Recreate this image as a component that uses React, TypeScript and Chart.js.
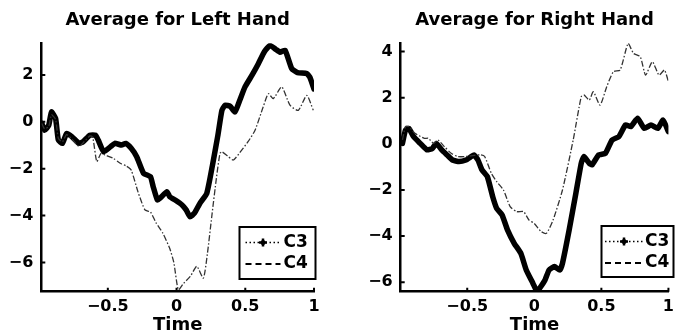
import React, { useEffect, useRef } from "react";
import { Chart, registerables } from "chart.js";
Chart.register(...registerables);

const FONT = "'DejaVu Sans', sans-serif";

const seriesNames = ["C3", "C4"];
const panelTitles = ["Average for Left Hand", "Average for Right Hand"];
const xAxisTitle = "Time";
const xTickValues = [-0.5, 0, 0.5, 1];
const xTickLabels = ["\u22120.5", "0", "0.5", "1"];
const leftYTickValues = [-6, -4, -2, 0, 2];
const rightYTickValues = [-6, -4, -2, 0, 2, 4];

// Left hand, C3
const leftC3Time = [-0.98, -0.96, -0.93, -0.91, -0.88, -0.86, -0.83, -0.8, -0.76, -0.71, -0.68, -0.63, -0.59, -0.57, -0.53, -0.48, -0.45, -0.4, -0.37, -0.33, -0.29, -0.24, -0.19, -0.17, -0.14, -0.12, -0.07, -0.05, -0.01, 0.04, 0.07, 0.098, 0.13, 0.17, 0.22, 0.26, 0.3, 0.33, 0.353, 0.39, 0.425, 0.46, 0.498, 0.55, 0.595, 0.64, 0.68, 0.72, 0.753, 0.79, 0.838, 0.88, 0.947, 0.97, 1.0];
const leftC3Values = [-0.07, -0.36, -0.15, 0.42, 0.14, -0.78, -0.92, -0.5, -0.64, -0.92, -0.85, -0.57, -0.57, -0.78, -1.28, -1.06, -0.92, -0.99, -0.92, -1.13, -1.49, -2.2, -2.34, -2.77, -3.33, -3.26, -2.98, -3.19, -3.34, -3.55, -3.76, -4.05, -3.9, -3.48, -3.05, -1.9, -0.6, 0.49, 0.71, 0.66, 0.42, 0.92, 1.49, 2.0, 2.48, 3.0, 3.26, 3.1, 2.97, 3.05, 2.27, 2.1, 2.06, 1.9, 1.4];

// Left hand, C4
const leftC4Time = [-0.98, -0.96, -0.93, -0.91, -0.88, -0.86, -0.83, -0.8, -0.76, -0.71, -0.68, -0.63, -0.61, -0.58, -0.55, -0.52, -0.46, -0.41, -0.365, -0.33, -0.28, -0.23, -0.19, -0.15, -0.1, -0.05, -0.02, 0.013, 0.05, 0.1, 0.147, 0.195, 0.225, 0.256, 0.29, 0.316, 0.33, 0.37, 0.413, 0.474, 0.52, 0.571, 0.63, 0.668, 0.704, 0.765, 0.825, 0.886, 0.947, 0.995];
const leftC4Values = [-0.07, -0.3, -0.2, 0.3, 0.1, -0.7, -0.85, -0.55, -0.75, -1.05, -0.9, -0.6, -0.65, -1.7, -1.35, -1.42, -1.56, -1.77, -1.89, -2.06, -3.0, -3.76, -3.85, -4.3, -4.75, -5.4, -6.0, -7.17, -6.9, -6.6, -6.17, -6.67, -5.6, -4.05, -2.4, -1.35, -1.28, -1.45, -1.63, -1.21, -0.85, -0.36, 0.63, 1.2, 0.99, 1.49, 0.71, 0.49, 1.13, 0.49];

// Right hand, C3
const rightC3Time = [-0.983, -0.96, -0.935, -0.9, -0.85, -0.8, -0.76, -0.73, -0.69, -0.65, -0.61, -0.56, -0.51, -0.47, -0.45, -0.42, -0.39, -0.35, -0.31, -0.28, -0.24, -0.2, -0.15, -0.1, -0.06, -0.01, 0.02, 0.04, 0.08, 0.11, 0.15, 0.19, 0.21, 0.26, 0.31, 0.35, 0.37, 0.41, 0.43, 0.48, 0.53, 0.58, 0.63, 0.68, 0.72, 0.77, 0.82, 0.87, 0.92, 0.96, 1.0];
const rightC3Values = [0.02, 0.6, 0.67, 0.31, 0.02, -0.26, -0.2, 0.02, -0.26, -0.48, -0.7, -0.77, -0.7, -0.55, -0.48, -0.7, -1.13, -1.42, -2.29, -2.8, -3.08, -3.73, -4.31, -4.75, -5.47, -6.05, -6.4, -6.26, -5.9, -5.47, -5.32, -5.47, -5.18, -3.73, -2.14, -0.84, -0.55, -0.84, -0.91, -0.48, -0.41, 0.17, 0.31, 0.82, 0.75, 1.11, 0.67, 0.82, 0.67, 1.03, 0.53];

// Right hand, C4
const rightC4Time = [-0.983, -0.96, -0.935, -0.89, -0.82, -0.79, -0.75, -0.72, -0.67, -0.62, -0.57, -0.51, -0.45, -0.4, -0.37, -0.32, -0.28, -0.23, -0.18, -0.13, -0.08, -0.04, 0.0, 0.05, 0.09, 0.14, 0.21, 0.29, 0.35, 0.37, 0.41, 0.44, 0.49, 0.54, 0.59, 0.64, 0.7, 0.74, 0.79, 0.83, 0.88, 0.93, 0.97, 1.0];
const rightC4Values = [0.17, 0.75, 0.75, 0.46, 0.24, 0.24, 0.02, 0.17, -0.12, -0.41, -0.55, -0.55, -0.5, -0.48, -0.55, -1.28, -1.64, -2.0, -2.72, -2.94, -2.94, -3.3, -3.45, -3.8, -3.88, -3.3, -2.0, 0.17, 2.05, 2.12, 1.9, 2.26, 1.68, 2.48, 3.13, 3.2, 4.36, 3.92, 3.78, 2.98, 3.56, 2.98, 3.2, 2.7];

const fmt = (v: number) => (v < 0 ? "\u2212" + Math.abs(v) : String(v));

type Box = { x: number; y: number; w: number; h: number; s0: number; s1: number; tx: number };

type PanelProps = {
  left: number;
  title: string;
  c3t: number[];
  c3v: number[];
  c4t: number[];
  c4v: number[];
  xMin: number;
  yMin: number;
  yMax: number;
  yTicks: number[];
  yAxisWidth: number;
  padRight: number;
  legend: Box;
};

function Panel(p: PanelProps) {
  const ref = useRef<HTMLCanvasElement>(null);
  useEffect(() => {
    const tickPlugin = {
      id: "inwardTicks",
      afterDatasetsDraw(chart: any) {
        const { ctx, chartArea, scales } = chart;
        ctx.save();
        ctx.strokeStyle = "#000";
        ctx.lineWidth = 2;
        ctx.beginPath();
        xTickValues.forEach((v) => {
          const px = scales.x.getPixelForValue(v);
          ctx.moveTo(px, chartArea.bottom);
          ctx.lineTo(px, chartArea.bottom - 4);
        });
        p.yTicks.forEach((v) => {
          const py = scales.y.getPixelForValue(v);
          ctx.moveTo(chartArea.left, py);
          ctx.lineTo(chartArea.left + 4, py);
        });
        ctx.stroke();
        ctx.restore();
      },
    };
    const legendPlugin = {
      id: "boxLegend",
      afterDraw(chart: any) {
        const ctx = chart.ctx;
        const b = p.legend;
        ctx.save();
        ctx.fillStyle = "#fff";
        ctx.fillRect(b.x, b.y, b.w, b.h);
        ctx.lineWidth = 2;
        ctx.strokeStyle = "#000";
        ctx.strokeRect(b.x, b.y, b.w, b.h);
        const y1 = b.y + 15.5;
        const y2 = b.y + 37;
        const x0 = b.x + b.s0;
        const x1 = b.x + b.s1;
        // C3 sample: dotted + marker
        ctx.setLineDash([1.5, 2.5]);
        ctx.lineWidth = 1.5;
        ctx.beginPath();
        ctx.moveTo(x0, y1);
        ctx.lineTo(x1, y1);
        ctx.stroke();
        ctx.setLineDash([]);
        const mx = (x0 + x1) / 2;
        ctx.lineWidth = 2.5;
        ctx.beginPath();
        ctx.moveTo(mx - 4, y1);
        ctx.lineTo(mx + 4, y1);
        ctx.moveTo(mx, y1 - 4);
        ctx.lineTo(mx, y1 + 4);
        ctx.stroke();
        ctx.beginPath();
        ctx.arc(mx, y1, 2.5, 0, Math.PI * 2);
        ctx.fillStyle = "#000";
        ctx.fill();
        // C4 sample: dashed
        ctx.setLineDash([6, 4]);
        ctx.lineWidth = 2;
        ctx.beginPath();
        ctx.moveTo(x0, y2);
        ctx.lineTo(x1, y2);
        ctx.stroke();
        ctx.setLineDash([]);
        ctx.fillStyle = "#000";
        ctx.font = `bold 17px ${FONT}`;
        ctx.textBaseline = "middle";
        ctx.textAlign = "left";
        ctx.fillText(seriesNames[0], b.x + b.tx, y1);
        ctx.fillText(seriesNames[1], b.x + b.tx, y2);
        ctx.restore();
      },
    };
    const chart = new Chart(ref.current!, {
      type: "line",
      data: {
        datasets: [
          {
            label: seriesNames[0],
            data: p.c3t.map((t, i) => ({ x: t, y: p.c3v[i] })),
            borderColor: "#000",
            borderWidth: 5.5,
            pointRadius: 0,
            tension: 0.15,
            borderJoinStyle: "round",
            borderCapStyle: "round",
            order: 1,
          },
          {
            label: seriesNames[1],
            data: p.c4t.map((t, i) => ({ x: t, y: p.c4v[i] })),
            borderColor: "#333",
            borderWidth: 1.3,
            borderDash: [6, 2, 1.5, 2],
            pointRadius: 0,
            tension: 0.2,
            order: 0,
          },
        ],
      },
      options: {
        animation: false,
        responsive: false,
        devicePixelRatio: 1,
        layout: { padding: { top: 0, left: 0, bottom: 0, right: p.padRight } },
        plugins: {
          legend: { display: false },
          tooltip: { enabled: false },
          title: {
            display: true,
            text: p.title,
            fullSize: false,
            color: "#000",
            font: { family: FONT, size: 18, weight: "bold", lineHeight: 1.2 },
            padding: { top: 10, bottom: 11.7 },
          },
        },
        scales: {
          x: {
            type: "linear",
            min: p.xMin,
            max: 1,
            grid: { display: false, drawTicks: false },
            border: { display: true, color: "#000", width: 2.5 },
            ticks: {
              color: "#000",
              font: { family: FONT, size: 16, weight: "bold" },
              padding: 6,
              maxRotation: 0,
              autoSkip: false,
              callback: (v: any) => {
                const i = xTickValues.indexOf(Number(v));
                return i >= 0 ? xTickLabels[i] : "";
              },
            },
            afterBuildTicks: (s: any) => {
              s.ticks = xTickValues.map((v) => ({ value: v }));
            },
            afterFit: (s: any) => {
              s.height = 42.3;
            },
            title: {
              display: true,
              text: xAxisTitle,
              color: "#000",
              font: { family: FONT, size: 18, weight: "bold", lineHeight: 1.2 },
              padding: { top: 0, bottom: -2 },
            },
          },
          y: {
            type: "linear",
            min: p.yMin,
            max: p.yMax,
            grid: { display: false, drawTicks: false },
            border: { display: true, color: "#000", width: 2.5 },
            ticks: {
              color: "#000",
              font: { family: FONT, size: 16, weight: "bold" },
              padding: 8,
              callback: (v: any) => fmt(Number(v)),
            },
            afterBuildTicks: (s: any) => {
              s.ticks = p.yTicks.map((v) => ({ value: v }));
            },
            afterFit: (s: any) => {
              s.width = p.yAxisWidth;
            },
          },
        },
      } as any,
      plugins: [tickPlugin, legendPlugin],
    });
    return () => chart.destroy();
  }, []);
  return (
    <canvas
      ref={ref}
      width={340}
      height={334}
      style={{ position: "absolute", left: p.left, top: 0, width: 340, height: 334 }}
    />
  );
}

export default function App() {
  return (
    <div style={{ position: "fixed", left: 0, top: 0, width: 680, height: 334, background: "#fff" }}>
      <Panel
        left={0}
        title={panelTitles[0]}
        c3t={leftC3Time}
        c3v={leftC3Values}
        c4t={leftC4Time}
        c4v={leftC4Values}
        xMin={-0.984}
        yMin={-7.25}
        yMax={3.35}
        yTicks={leftYTickValues}
        yAxisWidth={41.3}
        padRight={26}
        legend={{ x: 239.5, y: 227, w: 76, h: 52, s0: 6, s1: 41, tx: 44 }}
      />
      <Panel
        left={340}
        title={panelTitles[1]}
        c3t={rightC3Time}
        c3v={rightC3Values}
        c4t={rightC4Time}
        c4v={rightC4Values}
        xMin={-0.996}
        yMin={-6.41}
        yMax={4.36}
        yTicks={rightYTickValues}
        yAxisWidth={60.7}
        padRight={5.7}
        legend={{ x: 261.5, y: 226, w: 72, h: 51, s0: 3.5, s1: 41.5, tx: 43.5 }}
      />
    </div>
  );
}
